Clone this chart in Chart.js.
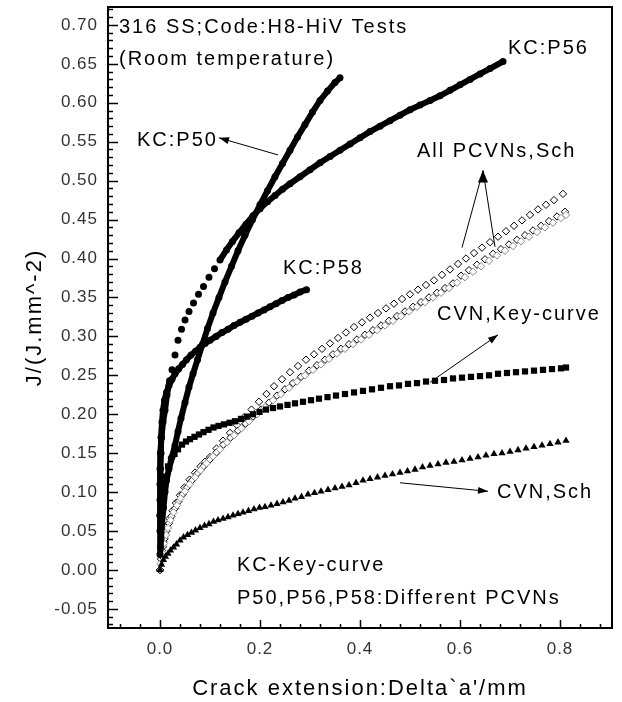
<!DOCTYPE html>
<html><head><meta charset="utf-8">
<script src="https://cdn.jsdelivr.net/npm/chart.js@4.4.1/dist/chart.umd.min.js"></script>
<style>html,body{margin:0;padding:0;background:#fff}#wrap{width:622px;height:702px}</style>
</head><body><div id="wrap"><canvas id="c" width="622" height="702"></canvas></div>
<script>
// ---- tick labels ----
const xTickValues = [0, 0.2, 0.4, 0.6, 0.8];
const yTickValues = [-0.05, 0, 0.05, 0.10, 0.15, 0.20, 0.25, 0.30, 0.35, 0.40, 0.45, 0.50, 0.55, 0.60, 0.65, 0.70];

// ---- series values [crack extension mm, J] ----
const kcP50 = [[0.000,0.020],[0.002,0.040],[0.004,0.060],[0.007,0.080],[0.010,0.100],[0.013,0.115],[0.018,0.130],[0.024,0.145],[0.030,0.160],[0.036,0.178],[0.042,0.195],[0.050,0.215],[0.058,0.235],[0.066,0.252],[0.075,0.270],[0.085,0.290],[0.095,0.310],[0.106,0.330],[0.118,0.350],[0.130,0.370],[0.143,0.390],[0.156,0.410],[0.170,0.430],[0.185,0.450],[0.200,0.469],[0.215,0.487],[0.230,0.505],[0.245,0.522],[0.260,0.539],[0.275,0.556],[0.290,0.572],[0.305,0.588],[0.320,0.603],[0.335,0.615],[0.350,0.626],[0.360,0.632]];
const kcP56 = [[0.001,0.030],[0.001,0.050],[0.000,0.070],[0.000,0.090],[0.001,0.110],[0.000,0.130],[0.001,0.150],[0.003,0.170],[0.006,0.190],[0.010,0.205],[0.014,0.225],[0.019,0.243],[0.024,0.257],[0.030,0.276],[0.036,0.295],[0.043,0.309],[0.050,0.321],[0.058,0.332],[0.067,0.343],[0.077,0.354],[0.087,0.364],[0.098,0.376],[0.109,0.387],[0.120,0.398],[0.133,0.411],[0.145,0.422],[0.158,0.433],[0.172,0.444],[0.186,0.455],[0.200,0.464],[0.215,0.473],[0.230,0.481],[0.245,0.489],[0.260,0.496],[0.280,0.505],[0.300,0.514],[0.320,0.523],[0.340,0.531],[0.360,0.539],[0.380,0.547],[0.400,0.555],[0.420,0.563],[0.440,0.570],[0.460,0.577],[0.480,0.584],[0.500,0.591],[0.520,0.597],[0.540,0.603],[0.560,0.609],[0.580,0.616],[0.600,0.623],[0.620,0.630],[0.640,0.637],[0.660,0.644],[0.686,0.653]];
const kcP58 = [[0.000,0.050],[0.000,0.070],[0.001,0.090],[0.000,0.110],[0.001,0.130],[0.002,0.150],[0.002,0.170],[0.004,0.190],[0.006,0.205],[0.009,0.218],[0.013,0.228],[0.018,0.237],[0.024,0.245],[0.030,0.252],[0.037,0.258],[0.045,0.264],[0.053,0.270],[0.062,0.276],[0.071,0.281],[0.080,0.286],[0.090,0.291],[0.100,0.295],[0.112,0.300],[0.124,0.305],[0.136,0.309],[0.148,0.314],[0.160,0.318],[0.172,0.322],[0.184,0.326],[0.196,0.330],[0.208,0.334],[0.220,0.338],[0.232,0.342],[0.244,0.346],[0.256,0.350],[0.268,0.353],[0.280,0.357],[0.293,0.360]];
const cvnKeyCurve = [[0.002,0.040],[0.004,0.070],[0.007,0.100],[0.011,0.120],[0.016,0.133],[0.022,0.142],[0.029,0.149],[0.036,0.155],[0.044,0.161],[0.052,0.165],[0.060,0.168],[0.069,0.171],[0.078,0.174],[0.087,0.177],[0.097,0.180],[0.107,0.183],[0.117,0.185],[0.128,0.187],[0.139,0.189],[0.150,0.191],[0.162,0.194],[0.174,0.197],[0.186,0.200],[0.199,0.203],[0.212,0.206],[0.226,0.208],[0.240,0.210],[0.255,0.212],[0.270,0.214],[0.286,0.216],[0.302,0.218],[0.318,0.220],[0.335,0.222],[0.352,0.224],[0.370,0.226],[0.388,0.228],[0.406,0.230],[0.424,0.232],[0.442,0.234],[0.460,0.236],[0.478,0.237],[0.496,0.239],[0.514,0.240],[0.532,0.242],[0.550,0.243],[0.568,0.244],[0.586,0.246],[0.604,0.247],[0.622,0.248],[0.640,0.249],[0.658,0.250],[0.676,0.252],[0.694,0.253],[0.712,0.254],[0.730,0.255],[0.748,0.256],[0.766,0.257],[0.784,0.258],[0.802,0.259],[0.812,0.260]];
const cvnSch = [[0.000,0.000],[0.003,0.007],[0.007,0.013],[0.011,0.017],[0.016,0.021],[0.021,0.025],[0.027,0.029],[0.033,0.033],[0.040,0.038],[0.047,0.042],[0.055,0.045],[0.063,0.048],[0.071,0.051],[0.080,0.054],[0.089,0.057],[0.098,0.059],[0.107,0.062],[0.116,0.064],[0.126,0.066],[0.136,0.068],[0.146,0.070],[0.156,0.072],[0.166,0.074],[0.177,0.076],[0.188,0.078],[0.199,0.080],[0.210,0.081],[0.222,0.083],[0.234,0.085],[0.246,0.087],[0.258,0.089],[0.270,0.092],[0.283,0.094],[0.296,0.097],[0.309,0.099],[0.322,0.101],[0.336,0.103],[0.350,0.105],[0.364,0.107],[0.378,0.109],[0.392,0.112],[0.406,0.115],[0.420,0.117],[0.435,0.119],[0.450,0.121],[0.465,0.123],[0.480,0.125],[0.495,0.127],[0.510,0.129],[0.525,0.132],[0.540,0.134],[0.556,0.136],[0.572,0.138],[0.588,0.139],[0.604,0.141],[0.620,0.143],[0.636,0.145],[0.652,0.147],[0.668,0.149],[0.684,0.150],[0.700,0.152],[0.716,0.154],[0.732,0.156],[0.748,0.158],[0.764,0.160],[0.780,0.162],[0.796,0.164],[0.812,0.166]];
const pcvnSchA = [[0.000,0.000],[0.002,0.014],[0.004,0.025],[0.007,0.036],[0.010,0.046],[0.014,0.056],[0.019,0.066],[0.025,0.076],[0.032,0.086],[0.040,0.096],[0.049,0.106],[0.059,0.116],[0.070,0.125],[0.081,0.133],[0.090,0.139],[0.100,0.145],[0.113,0.156],[0.126,0.166],[0.140,0.176],[0.154,0.186],[0.168,0.196],[0.183,0.206],[0.198,0.216],[0.213,0.226],[0.228,0.236],[0.244,0.245],[0.260,0.254],[0.276,0.262],[0.292,0.270],[0.308,0.277],[0.324,0.284],[0.340,0.291],[0.356,0.298],[0.372,0.305],[0.388,0.312],[0.404,0.318],[0.420,0.324],[0.436,0.330],[0.452,0.336],[0.468,0.342],[0.484,0.348],[0.500,0.354],[0.516,0.360],[0.532,0.366],[0.548,0.372],[0.564,0.379],[0.580,0.386],[0.596,0.393],[0.612,0.400],[0.628,0.407],[0.644,0.414],[0.660,0.421],[0.676,0.428],[0.692,0.435],[0.708,0.442],[0.724,0.449],[0.740,0.456],[0.756,0.463],[0.772,0.469],[0.788,0.475],[0.806,0.483]];
const pcvnSchB = [[0.000,0.000],[0.003,0.018],[0.006,0.030],[0.009,0.040],[0.013,0.050],[0.018,0.060],[0.023,0.069],[0.030,0.079],[0.037,0.088],[0.045,0.097],[0.054,0.106],[0.064,0.115],[0.075,0.124],[0.087,0.133],[0.100,0.142],[0.113,0.151],[0.127,0.161],[0.141,0.170],[0.156,0.179],[0.171,0.188],[0.186,0.197],[0.202,0.206],[0.218,0.215],[0.234,0.224],[0.250,0.232],[0.266,0.240],[0.282,0.248],[0.298,0.256],[0.314,0.263],[0.330,0.270],[0.346,0.277],[0.362,0.284],[0.378,0.290],[0.394,0.296],[0.410,0.302],[0.426,0.308],[0.442,0.314],[0.458,0.320],[0.474,0.326],[0.490,0.332],[0.506,0.338],[0.522,0.344],[0.538,0.350],[0.554,0.356],[0.570,0.362],[0.586,0.368],[0.602,0.378],[0.618,0.385],[0.634,0.392],[0.650,0.399],[0.666,0.406],[0.682,0.412],[0.698,0.418],[0.714,0.424],[0.730,0.430],[0.746,0.436],[0.762,0.442],[0.778,0.448],[0.794,0.454],[0.810,0.460]];
const pcvnSchC = [[0.001,0.008],[0.004,0.022],[0.008,0.034],[0.012,0.045],[0.016,0.054],[0.021,0.064],[0.027,0.074],[0.034,0.083],[0.041,0.092],[0.050,0.101],[0.059,0.110],[0.070,0.119],[0.081,0.128],[0.093,0.137],[0.106,0.146],[0.120,0.155],[0.134,0.164],[0.148,0.173],[0.163,0.182],[0.178,0.191],[0.194,0.200],[0.210,0.209],[0.226,0.218],[0.242,0.226],[0.258,0.234],[0.274,0.242],[0.290,0.250],[0.306,0.257],[0.322,0.264],[0.338,0.271],[0.354,0.278],[0.370,0.284],[0.386,0.290],[0.402,0.296],[0.418,0.302],[0.434,0.308],[0.450,0.314],[0.466,0.320],[0.482,0.326],[0.498,0.332],[0.514,0.338],[0.530,0.344],[0.546,0.350],[0.562,0.356],[0.578,0.362],[0.594,0.369],[0.610,0.376],[0.626,0.383],[0.642,0.390],[0.658,0.397],[0.674,0.404],[0.690,0.410],[0.706,0.416],[0.722,0.422],[0.738,0.428],[0.754,0.434],[0.770,0.440],[0.786,0.446],[0.802,0.452],[0.812,0.456]];

// ---- annotations (data coordinates) ----
const notes = [
  {text: '316 SS;Code:H8-HiV Tests', x: -0.082, y: 0.697},
  {text: '(Room temperature)', x: -0.082, y: 0.655},
  {text: 'KC:P56', x: 0.696, y: 0.670},
  {text: 'KC:P50', x: -0.046, y: 0.552},
  {text: 'All PCVNs,Sch', x: 0.514, y: 0.537},
  {text: 'KC:P58', x: 0.246, y: 0.387},
  {text: 'CVN,Key-curve', x: 0.554, y: 0.328},
  {text: 'CVN,Sch', x: 0.674, y: 0.100},
  {text: 'KC-Key-curve', x: 0.154, y: 0.006},
  {text: 'P50,P56,P58:Different PCVNs', x: 0.154, y: -0.037}
];
const arrows = [
  {from: [0.236, 0.533], to: [0.118, 0.555]},
  {from: [0.540, 0.241], to: [0.676, 0.302]},
  {from: [0.480, 0.112], to: [0.656, 0.101]}
];
const forkArrow = {tails: [[0.604, 0.414], [0.670, 0.415]], tip: [0.646, 0.513]};

const FONT = '"Liberation Sans", Arial, sans-serif';
const pts = a => a.map(([x, y]) => ({x, y}));

function arrowHead(ctx, x1, y1, x2, y2, len, hw) {
  const a = Math.atan2(y2 - y1, x2 - x1);
  ctx.beginPath();
  ctx.moveTo(x2, y2);
  ctx.lineTo(x2 - len * Math.cos(a) + hw * Math.sin(a), y2 - len * Math.sin(a) - hw * Math.cos(a));
  ctx.lineTo(x2 - len * Math.cos(a) - hw * Math.sin(a), y2 - len * Math.sin(a) + hw * Math.cos(a));
  ctx.closePath();
  ctx.fill();
}

const decor = {
  id: 'decor',
  beforeDraw(chart) {
    const ctx = chart.ctx;
    ctx.letterSpacing = '1px';
    if (!chart._titleWrapped) {
      chart._titleWrapped = true;
      ['x', 'y'].forEach(id => {
        const s = chart.scales[id];
        const orig = s.drawTitle.bind(s);
        s.drawTitle = function () { ctx.save(); ctx.letterSpacing = '2px'; orig(); ctx.restore(); };
      });
    }
  },
  afterDraw(chart) {
    const ctx = chart.ctx, xs = chart.scales.x, ys = chart.scales.y, A = chart.chartArea;
    ctx.save();
    ctx.strokeStyle = '#000';
    ctx.lineWidth = 1.5;
    // inward ticks
    ctx.beginPath();
    for (let k = -7; k <= 72; k++) {
      const py = Math.round(ys.getPixelForValue(k / 100)) + 0.5;
      const len = (k % 5 === 0) ? 10 : 5;
      ctx.moveTo(A.left, py); ctx.lineTo(A.left + len, py);
    }
    for (let k = -2; k <= 22; k++) {
      const px = Math.round(xs.getPixelForValue(k * 0.04)) + 0.5;
      const len = (k % 5 === 0) ? 8 : 4;
      ctx.moveTo(px, A.bottom); ctx.lineTo(px, A.bottom - len);
    }
    ctx.stroke();
    // frame
    ctx.lineWidth = 2;
    ctx.strokeRect(A.left, A.top, A.right - A.left, A.bottom - A.top);
    // notes
    ctx.fillStyle = '#000';
    ctx.font = '20px ' + FONT;
    ctx.letterSpacing = '2px';
    ctx.textAlign = 'left';
    ctx.textBaseline = 'middle';
    notes.forEach(n => ctx.fillText(n.text, xs.getPixelForValue(n.x), ys.getPixelForValue(n.y)));
    // arrows
    ctx.lineWidth = 1;
    arrows.forEach(ar => {
      const x1 = xs.getPixelForValue(ar.from[0]), y1 = ys.getPixelForValue(ar.from[1]);
      const x2 = xs.getPixelForValue(ar.to[0]), y2 = ys.getPixelForValue(ar.to[1]);
      ctx.beginPath(); ctx.moveTo(x1, y1); ctx.lineTo(x2, y2); ctx.stroke();
      arrowHead(ctx, x1, y1, x2, y2, 10, 3.5);
    });
    const tx = xs.getPixelForValue(forkArrow.tip[0]), ty = ys.getPixelForValue(forkArrow.tip[1]);
    forkArrow.tails.forEach(t => {
      ctx.beginPath(); ctx.moveTo(xs.getPixelForValue(t[0]), ys.getPixelForValue(t[1])); ctx.lineTo(tx, ty); ctx.stroke();
    });
    arrowHead(ctx, tx, ty + 20, tx, ty, 12, 5);
    ctx.restore();
  }
};

const circleStyle = {
  showLine: true, borderColor: '#000', backgroundColor: '#000', borderWidth: 6,
  pointStyle: 'circle', pointRadius: 3.5, pointBorderWidth: 0, pointBackgroundColor: '#000'
};
const diamondStyle = (col) => ({
  showLine: false, pointStyle: 'rectRot', pointRadius: 3.7, pointBorderWidth: 1,
  pointBorderColor: col, pointBackgroundColor: '#fff', borderColor: col, backgroundColor: '#fff'
});

new Chart(document.getElementById('c'), {
  type: 'scatter',
  data: {
    datasets: [
      Object.assign({label: 'KC:P50', data: pts(kcP50)}, circleStyle),
      Object.assign({label: 'KC:P56', data: pts(kcP56),
        segment: {borderColor: c => (c.p0.parsed.y >= 0.24 && c.p1.parsed.y <= 0.4) ? 'rgba(0,0,0,0)' : undefined}}, circleStyle),
      Object.assign({label: 'KC:P58', data: pts(kcP58)}, circleStyle),
      {label: 'CVN,Key-curve', data: pts(cvnKeyCurve), showLine: false, pointStyle: 'rect', pointRadius: 4.4,
        pointBorderWidth: 0, pointBackgroundColor: '#000', backgroundColor: '#000', borderColor: '#000'},
      {label: 'CVN,Sch', data: pts(cvnSch), showLine: false, pointStyle: 'triangle', pointRadius: 4.2,
        pointBorderWidth: 0, pointBackgroundColor: '#000', backgroundColor: '#000', borderColor: '#000'},
      Object.assign({label: 'PCVN Sch C', data: pts(pcvnSchC)}, diamondStyle('#888')),
      Object.assign({label: 'PCVN Sch B', data: pts(pcvnSchB)}, diamondStyle('#000')),
      Object.assign({label: 'PCVN Sch A', data: pts(pcvnSchA)}, diamondStyle('#000'))
    ]
  },
  options: {
    responsive: false,
    devicePixelRatio: 1,
    animation: false,
    events: [],
    layout: {padding: {left: 0, right: 10, top: 7, bottom: 0}},
    plugins: {legend: {display: false}, tooltip: {enabled: false}},
    scales: {
      x: {
        type: 'linear', position: 'bottom', min: -0.104, max: 0.904,
        afterBuildTicks: s => { s.ticks = xTickValues.map(v => ({value: v})); },
        afterFit: s => { s.height = 74; s.paddingLeft = 0; s.paddingRight = 0; },
        grid: {display: false, drawTicks: false}, border: {display: false},
        ticks: {padding: 11, color: '#333', autoSkip: false, maxRotation: 0,
          font: {family: FONT, size: 17}, callback: v => Number(v).toFixed(1)},
        title: {display: true, text: "Crack extension:Delta`a'/mm", color: '#000',
          font: {family: FONT, size: 22}, padding: {top: 0, bottom: 0}}
      },
      y: {
        type: 'linear', position: 'left', min: -0.0745, max: 0.723,
        afterBuildTicks: s => { s.ticks = yTickValues.map(v => ({value: v})); },
        afterFit: s => { s.width = 108; s.paddingTop = 0; s.paddingBottom = 0; },
        grid: {display: false, drawTicks: false}, border: {display: false},
        ticks: {padding: 10, color: '#333', autoSkip: false,
          font: {family: FONT, size: 17}, callback: v => Number(v).toFixed(2)},
        title: {display: true, text: 'J/(J.mm^-2)', color: '#000',
          font: {family: FONT, size: 22}, padding: {top: 22, bottom: 0}}
      }
    }
  },
  plugins: [decor]
});
</script>
</body></html>
